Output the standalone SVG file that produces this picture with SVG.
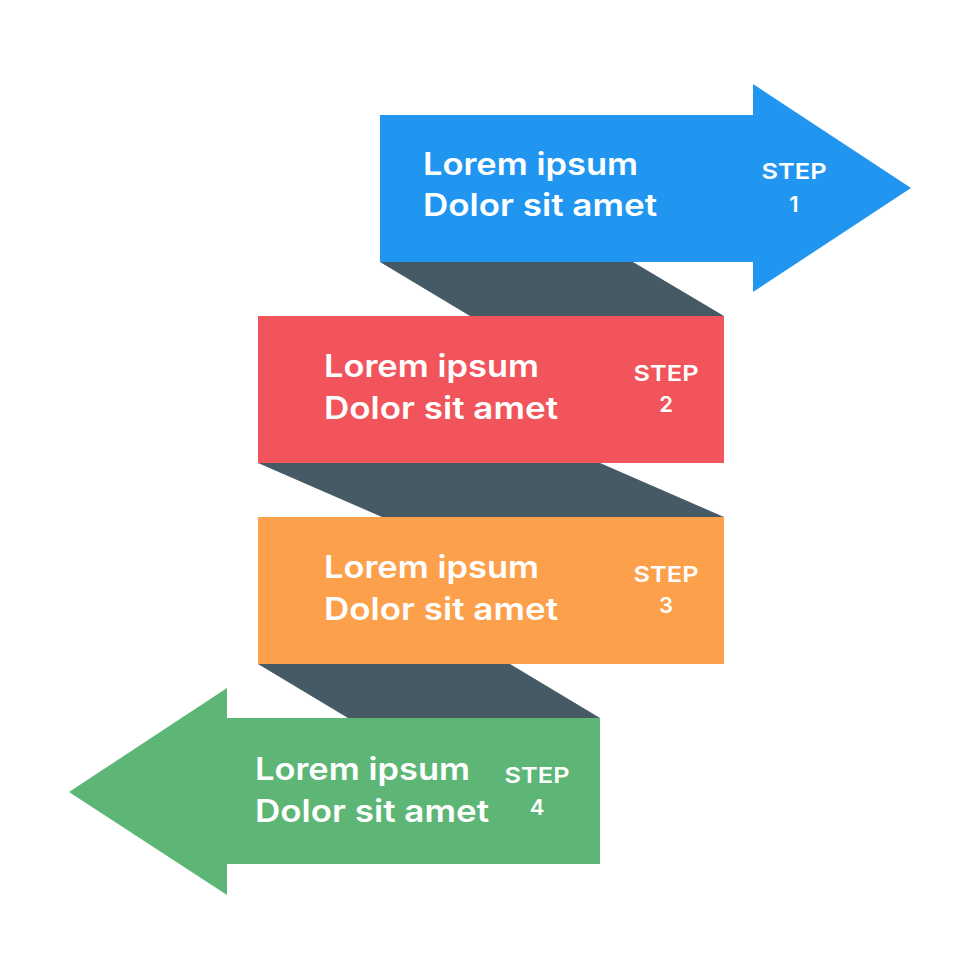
<svg xmlns="http://www.w3.org/2000/svg" width="980" height="980" viewBox="0 0 980 980">
<style>
.main{font-family:Inter,"Noto Sans",sans-serif;font-weight:600;font-size:31px;fill:#fff}
.step{font-family:Inter,"Noto Sans",sans-serif;font-weight:600;font-size:22px;fill:#fff;text-anchor:middle}
.band{fill:#455A64}
</style>
<rect width="980" height="980" fill="#fff"/>
<g id="connectors">
<polygon class="band" points="380,262 633,262 724,316 470,316"/>
<polygon class="band" points="258,463 600,463 724,517 382,517"/>
<polygon class="band" points="258,664 510,664 600,718 348,718"/>
</g>
<g id="step1">
<polygon fill="#2196F0" points="380,115 753,115 753,84 911,188 753,292 753,262 380,262"/>
<text class="main" x="423" y="175" textLength="215" lengthAdjust="spacingAndGlyphs">Lorem ipsum</text>
<text class="main" x="423" y="216" textLength="234" lengthAdjust="spacingAndGlyphs">Dolor sit amet</text>
<text class="step" x="794" y="179" textLength="65" lengthAdjust="spacingAndGlyphs">STEP</text>
<text class="step" x="794" y="212">1</text>
</g>
<g id="step2">
<rect fill="#F2545B" x="258" y="316" width="466" height="147"/>
<text class="main" x="324" y="377" textLength="215" lengthAdjust="spacingAndGlyphs">Lorem ipsum</text>
<text class="main" x="324" y="419" textLength="234" lengthAdjust="spacingAndGlyphs">Dolor sit amet</text>
<text class="step" x="666" y="381" textLength="65" lengthAdjust="spacingAndGlyphs">STEP</text>
<text class="step" x="666" y="412">2</text>
</g>
<g id="step3">
<rect fill="#FDA04B" x="258" y="517" width="466" height="147"/>
<text class="main" x="324" y="578" textLength="215" lengthAdjust="spacingAndGlyphs">Lorem ipsum</text>
<text class="main" x="324" y="620" textLength="234" lengthAdjust="spacingAndGlyphs">Dolor sit amet</text>
<text class="step" x="666" y="582" textLength="65" lengthAdjust="spacingAndGlyphs">STEP</text>
<text class="step" x="666" y="613">3</text>
</g>
<g id="step4">
<polygon fill="#5DB675" points="600,718 600,864 227,864 227,895 69,792 227,688 227,718"/>
<text class="main" x="255" y="780" textLength="215" lengthAdjust="spacingAndGlyphs">Lorem ipsum</text>
<text class="main" x="255" y="822" textLength="234" lengthAdjust="spacingAndGlyphs">Dolor sit amet</text>
<text class="step" x="537" y="783" textLength="65" lengthAdjust="spacingAndGlyphs">STEP</text>
<text class="step" x="537" y="815">4</text>
</g>
</svg>
